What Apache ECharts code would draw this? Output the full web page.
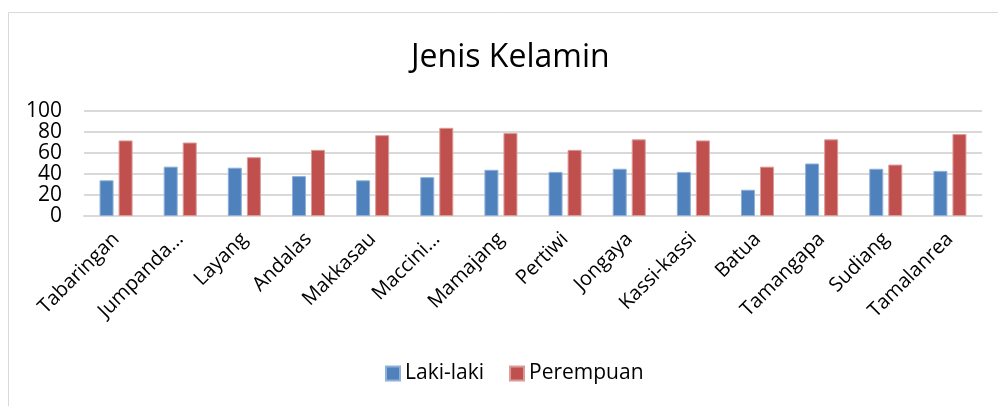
<!DOCTYPE html>
<html>
<head>
<meta charset="utf-8">
<script src="https://cdn.jsdelivr.net/npm/echarts@6/dist/echarts.min.js"></script>
<style>
  html, body { margin: 0; padding: 0; background: #fff; }
  #chart { width: 998px; height: 406px; }
</style>
</head>
<body>
<div id="chart"></div>
<script>
// Data
const categories = ["Tabaringan", "Jumpanda...", "Layang", "Andalas", "Makkasau", "Maccini...", "Mamajang",
  "Pertiwi", "Jongaya", "Kassi-kassi", "Batua", "Tamangapa", "Sudiang", "Tamalanrea"];
const lakiLaki = [34, 47, 46, 38, 34, 37, 44, 42, 45, 42, 25, 50, 45, 43];
const perempuan = [72, 70, 56, 63, 77, 84, 79, 63, 73, 72, 47, 73, 49, 78];
const yTicks = { min: 0, max: 100, interval: 20 };

const font = "'Open Sans', sans-serif";
const chart = echarts.init(document.getElementById("chart"));

chart.setOption({
  backgroundColor: "#fff",
  animation: false,
  textStyle: { fontFamily: font, color: "#000" },
  title: {
    text: "Jenis Kelamin",
    left: 406,
    top: 37,
    textStyle: { fontFamily: font, fontSize: 32, fontWeight: "normal", color: "#000" }
  },
  legend: {
    top: 358,
    left: 380,
    icon: "rect",
    itemWidth: 14,
    itemHeight: 14,
    itemGap: 25,
    textStyle: { fontFamily: font, fontSize: 21, color: "#000" },
    data: ["Laki-laki", "Perempuan"]
  },
  grid: { left: 84, right: 16, top: 111, height: 105, containLabel: false },
  xAxis: {
    type: "category",
    data: categories,
    axisLine: { lineStyle: { color: "#d9d9d9", width: 2 } },
    axisTick: { show: false },
    axisLabel: { rotate: 45, fontSize: 20, color: "#000", margin: 20, interval: 0 }
  },
  yAxis: {
    type: "value",
    min: yTicks.min,
    max: yTicks.max,
    interval: yTicks.interval,
    axisLine: { show: false },
    axisTick: { show: false },
    axisLabel: { fontSize: 21, color: "#000", margin: 22 },
    splitLine: { lineStyle: { color: "#d9d9d9", width: 2 } }
  },
  graphic: [{
    type: "rect",
    shape: { x: 8.5, y: 12.5, width: 1000, height: 400 },
    style: { fill: "none", stroke: "#d9d9d9", lineWidth: 1 },
    silent: true
  }],
  series: [
    {
      name: "Laki-laki",
      type: "bar",
      data: lakiLaki,
      barWidth: 14,
      barGap: "36%",
      itemStyle: { color: "#4F81BD", borderColor: "#8fb0d8", borderWidth: 1 }
    },
    {
      name: "Perempuan",
      type: "bar",
      data: perempuan,
      barWidth: 14,
      itemStyle: { color: "#C0504D", borderColor: "#dc9b99", borderWidth: 1 }
    }
  ]
});
</script>
</body>
</html>
